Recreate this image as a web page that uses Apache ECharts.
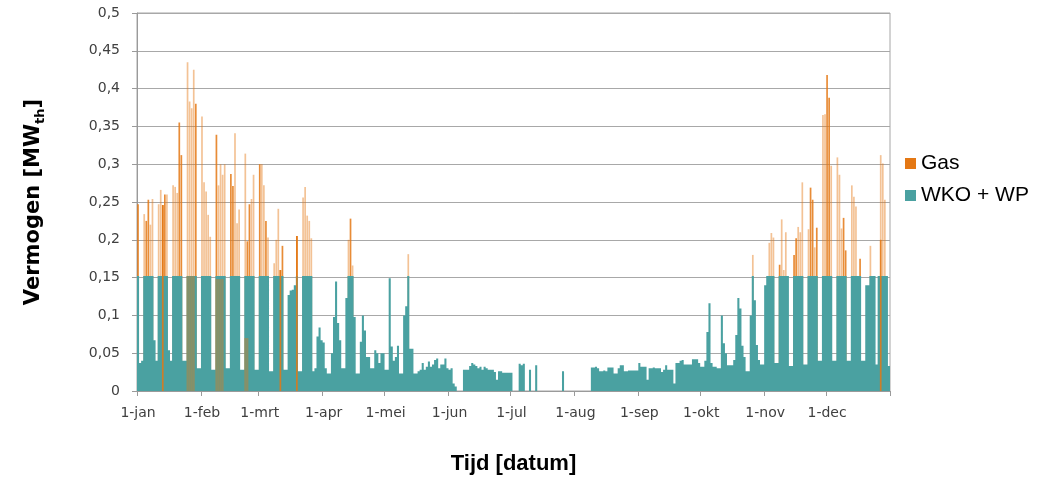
<!DOCTYPE html>
<html>
<head>
<meta charset="utf-8">
<script src="https://cdn.jsdelivr.net/npm/echarts@6/dist/echarts.min.js"></script>
<style>
  html, body { margin: 0; padding: 0; background: #fff; }
  #chart { width: 1043px; height: 477px; }
</style>
</head>
<body>
<div id="chart"></div>
<script>
// Calendar of the year (one bar per day)
const monthNames = ['jan', 'feb', 'mrt', 'apr', 'mei', 'jun', 'jul', 'aug', 'sep', 'okt', 'nov', 'dec'];
const monthLengths = [31, 28, 31, 30, 31, 30, 31, 31, 30, 31, 30, 31];

// Daily peak output of the heat pump with seasonal storage (WKO + WP), MWth
const wkoWp = [
  // jan
  0.152,0.037,0.04,0.152,0.152,0.152,0.152,0.152,0.067,0.04,0.152,0.152,0.152,0.152,0.152,0.054,0.04,0.152,0.152,0.152,0.152,0.152,0.04,0.04,0.152,0.152,0.152,0.152,0.152,0.03,0.03,
  // feb
  0.152,0.152,0.152,0.152,0.152,0.028,0.028,0.152,0.152,0.152,0.152,0.152,0.03,0.03,0.152,0.152,0.152,0.152,0.152,0.028,0.028,0.152,0.152,0.152,0.152,0.152,0.028,0.028,
  // mrt
  0.152,0.152,0.152,0.152,0.152,0.026,0.026,0.152,0.152,0.152,0.152,0.152,0.028,0.028,0.127,0.133,0.134,0.14,0.152,0.026,0.026,0.152,0.152,0.152,0.152,0.152,0.026,0.03,0.072,0.084,0.067,
  // apr
  0.064,0.03,0.023,0.023,0.05,0.098,0.145,0.09,0.067,0.03,0.03,0.123,0.152,0.152,0.152,0.098,0.023,0.023,0.065,0.1,0.08,0.045,0.045,0.03,0.03,0.054,0.05,0.037,0.05,0.05,
  // mei
  0.028,0.028,0.149,0.059,0.04,0.045,0.06,0.023,0.023,0.1,0.112,0.152,0.056,0.056,0.023,0.023,0.026,0.028,0.037,0.028,0.032,0.039,0.032,0.035,0.041,0.043,0.03,0.035,0.035,0.043,0.03,
  // jun
  0.028,0.03,0.01,0.006,0,0,0,0.028,0.028,0.028,0.033,0.037,0.035,0.033,0.03,0.032,0.028,0.032,0.03,0.028,0.028,0.028,0.025,0.015,0.026,0.026,0.024,0.024,0.024,0.024,
  // jul
  0.024,0,0,0,0.036,0.034,0.036,0,0,0.028,0,0,0.034,0,0,0,0,0,0,0,0,0,0,0,0,0.026,0,0,0,0,0,
  // aug
  0,0,0,0,0,0,0,0,0.031,0.031,0.032,0.03,0.026,0.026,0.027,0.026,0.031,0.031,0.031,0.023,0.023,0.03,0.034,0.034,0.026,0.026,0.027,0.027,0.027,0.027,0.027,
  // sep
  0.037,0.032,0.032,0.032,0.015,0.03,0.03,0.031,0.03,0.03,0.03,0.025,0.028,0.034,0.028,0.028,0.028,0.01,0.037,0.037,0.04,0.041,0.035,0.035,0.035,0.035,0.042,0.042,0.042,0.037,
  // okt
  0.032,0.032,0.04,0.078,0.116,0.037,0.032,0.032,0.03,0.03,0.1,0.063,0.05,0.034,0.034,0.034,0.041,0.074,0.123,0.109,0.06,0.045,0.026,0.026,0.1,0.152,0.12,0.061,0.041,0.035,0.035,
  // nov
  0.14,0.152,0.152,0.152,0.152,0.037,0.037,0.152,0.152,0.152,0.152,0.152,0.033,0.033,0.152,0.152,0.152,0.152,0.152,0.035,0.035,0.152,0.152,0.152,0.152,0.152,0.04,0.04,0.152,0.152,
  // dec
  0.152,0.152,0.152,0.04,0.04,0.152,0.152,0.152,0.152,0.152,0.04,0.04,0.152,0.152,0.152,0.152,0.152,0.04,0.04,0.14,0.14,0.152,0.152,0.152,0.035,0.152,0.152,0.152,0.152,0.152,0.033
];

// Gas boiler: short morning peaks (daily maximum, MWth)
const gasShortPeaks = [
  ['4-jan',0.234],['7-jan',0.22],['8-jan',0.254],['11-jan',0.247],['12-jan',0.266],['15-jan',0.26],
  ['18-jan',0.272],['19-jan',0.27],['20-jan',0.262],['25-jan',0.435],['26-jan',0.383],['27-jan',0.374],['28-jan',0.425],
  ['1-feb',0.363],['2-feb',0.276],['3-feb',0.264],['4-feb',0.233],['5-feb',0.204],['9-feb',0.272],['10-feb',0.3],
  ['11-feb',0.286],['12-feb',0.3],['17-feb',0.341],['18-feb',0.222],['19-feb',0.24],['22-feb',0.314],['25-feb',0.254],['26-feb',0.286],
  ['2-mrt',0.3],['3-mrt',0.272],['5-mrt',0.203],['8-mrt',0.169],['9-mrt',0.2],['10-mrt',0.241],
  ['22-mrt',0.256],['23-mrt',0.27],['24-mrt',0.232],['25-mrt',0.225],['26-mrt',0.202],
  ['13-apr',0.2],['15-apr',0.166],['12-mei',0.181],['26-okt',0.18],
  ['3-nov',0.196],['4-nov',0.209],['5-nov',0.203],['9-nov',0.227],['10-nov',0.16],['11-nov',0.21],
  ['17-nov',0.217],['18-nov',0.21],['19-nov',0.276],['22-nov',0.214],['25-nov',0.19],['29-nov',0.365],['30-nov',0.366],
  ['3-dec',0.298],['6-dec',0.309],['7-dec',0.286],['8-dec',0.215],['13-dec',0.272],['14-dec',0.257],['15-dec',0.244],
  ['22-dec',0.192],['27-dec',0.312],['28-dec',0.301],['29-dec',0.253]
];

// Gas boiler: peaks held for several hours (daily maximum, MWth)
const gasLongPeaks = [
  ['1-jan',0.247],['5-jan',0.225],['6-jan',0.253],['13-jan',0.246],['14-jan',0.26],['21-jan',0.355],['22-jan',0.312],['29-jan',0.38],
  ['8-feb',0.339],['15-feb',0.287],['16-feb',0.271],['23-feb',0.198],['24-feb',0.247],
  ['1-mrt',0.3],['4-mrt',0.225],['11-mrt',0.16],['12-mrt',0.192],['19-mrt',0.205],['14-apr',0.228],
  ['8-nov',0.167],['15-nov',0.18],['16-nov',0.202],['23-nov',0.269],['24-nov',0.253],['26-nov',0.216],
  ['1-dec',0.418],['2-dec',0.388],['9-dec',0.229],['10-dec',0.186],['17-dec',0.175]
];

// Gas running alongside the heat pump within the base load (MWth)
const gasShared = [
  ['25-jan',0.152],['26-jan',0.152],['27-jan',0.152],['28-jan',0.152],
  ['8-feb',0.148],['9-feb',0.148],['10-feb',0.148],['11-feb',0.148],['22-feb',0.07],['23-feb',0.07]
];

// Hours with the heat pump off and gas alone carrying the load (MWth)
const gasAlone = [['13-jan',0.246],['11-mrt',0.16],['19-mrt',0.205],['27-dec',0.2]];

const categories = [];
monthNames.forEach((m, k) => {
  for (let day = 1; day <= monthLengths[k]; day++) categories.push(day + '-' + m);
});

const teal = '#4aa1a1';
const orange = '#e47814';
const axisGrey = '#9a9a9a';
const tickFont = { fontFamily: 'DejaVu Sans', fontSize: 14, color: '#404040' };
const isMonthStart = (i, v) => String(v).indexOf('1-') === 0;

const chart = echarts.init(document.getElementById('chart'));
chart.setOption({
  animation: false,
  grid: {
    left: 137, right: 153, top: 13, bottom: 86,
    containLabel: false, outerBoundsMode: 'none',
    show: true, borderColor: '#a6a6a6', borderWidth: 1
  },
  legend: {
    orient: 'vertical', left: 905, top: 153, padding: 0,
    itemWidth: 11, itemHeight: 11, itemGap: 11, icon: 'rect',
    textStyle: { fontFamily: 'Liberation Sans', fontSize: 21, color: '#000' },
    data: [
      { name: 'Gas', itemStyle: { color: orange, opacity: 1 } },
      { name: 'WKO + WP', itemStyle: { color: teal } }
    ]
  },
  xAxis: [
    {
      type: 'category', data: categories, boundaryGap: true,
      axisLine: { lineStyle: { color: axisGrey } },
      axisTick: { show: true, alignWithLabel: false, interval: isMonthStart, length: 5, lineStyle: { color: axisGrey } },
      axisLabel: Object.assign({ interval: isMonthStart, margin: 15 }, tickFont),
      name: 'Tijd [datum]', nameLocation: 'middle', nameGap: 62,
      nameTextStyle: { fontFamily: 'Liberation Sans', fontWeight: 'bold', fontSize: 22, color: '#000' }
    },
    { type: 'category', data: categories, boundaryGap: true, show: false }
  ],
  yAxis: {
    type: 'value', min: 0, max: 0.5, interval: 0.05,
    axisLine: { show: true, lineStyle: { color: axisGrey } },
    axisTick: { show: true, length: 5, lineStyle: { color: axisGrey } },
    splitLine: { lineStyle: { color: '#a8a8a8', width: 1.2 } },
    axisLabel: Object.assign({
      margin: 17,
      formatter: v => String(Math.round(v * 100) / 100).replace('.', ',')
    }, tickFont),
    name: '{a|Vermogen [MW}{b|th}{a|]}', nameLocation: 'middle', nameGap: 90, nameRotate: 90,
    nameTextStyle: {
      rich: {
        a: { fontFamily: 'DejaVu Sans', fontWeight: 'bold', fontSize: 21, color: '#000', lineHeight: 26, verticalAlign: 'middle' },
        b: { fontFamily: 'DejaVu Sans', fontWeight: 'bold', fontSize: 13, color: '#000', lineHeight: 26, verticalAlign: 'bottom' }
      }
    }
  },
  series: [
    { name: 'Gas', type: 'bar', xAxisIndex: 1, data: gasShortPeaks, barWidth: 1.7, barGap: '-100%',
      itemStyle: { color: orange, opacity: 0.45 } },
    { name: 'Gas', type: 'bar', xAxisIndex: 1, data: gasLongPeaks, barWidth: 1.7, barGap: '-100%',
      itemStyle: { color: orange, opacity: 0.85 } },
    { name: 'WKO + WP', type: 'bar', xAxisIndex: 0, data: wkoWp, barWidth: '100%', barGap: '-100%',
      large: true, largeThreshold: 50, itemStyle: { color: teal } },
    { name: 'Gas', type: 'bar', xAxisIndex: 0, data: gasShared, barWidth: '100%', barGap: '-100%',
      itemStyle: { color: orange, opacity: 0.4 } },
    { name: 'Gas', type: 'bar', xAxisIndex: 1, data: gasAlone, barWidth: 1.7, barGap: '-100%',
      itemStyle: { color: orange, opacity: 0.85 } }
  ]
});
</script>
</body>
</html>
